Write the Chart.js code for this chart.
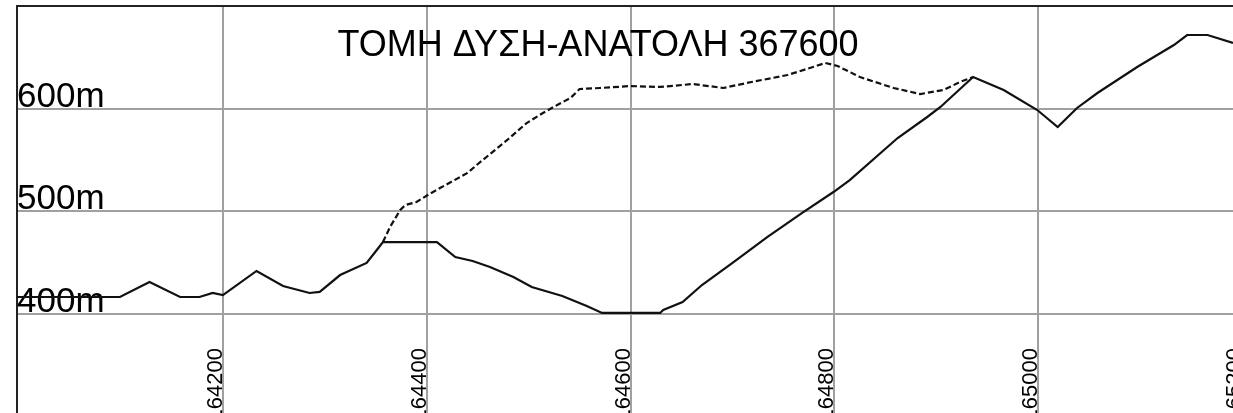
<!DOCTYPE html>
<html>
<head>
<meta charset="utf-8">
<title>ΤΟΜΗ ΔΥΣΗ-ΑΝΑΤΟΛΗ 367600</title>
<script src="https://cdn.jsdelivr.net/npm/chart.js@4.4.1/dist/chart.umd.min.js"></script>
<style>
  html, body { margin: 0; padding: 0; background: #fff; }
  #wrap { width: 1233px; height: 413px; }
</style>
</head>
<body>
<div id="wrap"><canvas id="tomi" width="1233" height="413"></canvas></div>
<script>
var titleText = "ΤΟΜΗ ΔΥΣΗ-ΑΝΑΤΟΛΗ 367600";
var xTicks = [164200, 164400, 164600, 164800, 165000, 165200];
var yTicks = [400, 500, 600];
var yTickLabels = ["400m", "500m", "600m"];

// upper profile (dashed), splits off the lower one near 164357
var dashX = [164357, 164364, 164374, 164379, 164390, 164401, 164413, 164440, 164449, 164479,
  164498, 164514, 164528, 164541, 164550, 164570, 164600, 164629, 164661, 164691,
  164714, 164754, 164779, 164791, 164803, 164825, 164858, 164884, 164907, 164923, 164936];
var dashY = [470.2, 484.9, 501.5, 506.3, 509.3, 516.1, 522.9, 537.6, 545.4, 569.8,
  586.3, 596.1, 603.9, 610.7, 619.5, 620.5, 622.4, 621.5, 624.4, 620.5,
  625.4, 633.2, 641.0, 644.9, 642.0, 631.2, 620.5, 614.6, 618.5, 626.3, 631.2];

// lower profile (solid)
var solidX = [163998, 164099, 164128, 164158, 164177, 164190, 164200, 164233, 164259, 164285,
  164295, 164315, 164341, 164351, 164357, 164410, 164428, 164445, 164462, 164485,
  164503, 164533, 164557, 164572, 164629, 164632, 164651, 164670, 164701, 164734,
  164768, 164799, 164815, 164862, 164891, 164904, 164936, 164966, 164999, 165019,
  165038, 165058, 165097, 165133, 165146, 165166, 165191];
var solidY = [416.6, 416.6, 431.2, 416.6, 416.6, 420.5, 418.5, 442.0, 427.3, 420.5,
  421.5, 438.0, 449.8, 462.4, 470.2, 470.2, 455.6, 451.7, 445.9, 436.1,
  426.3, 417.6, 407.8, 401.0, 401.0, 403.9, 411.7, 428.3, 450.7, 475.1,
  498.5, 519.0, 530.7, 571.7, 592.2, 602.0, 631.2, 618.5, 599.0, 582.4,
  601.0, 615.6, 641.0, 662.4, 672.2, 672.2, 664.4];

var xMin = 163998, xMax = 165191;
var yMin = 303.4, yMax = 700.5;

(function () {
  function toPoints(xs, ys) {
    return xs.map(function (x, i) {
      return { x: x, y: ys[i] };
    });
  }

  function flatten(axis) {
    axis.paddingTop = 0;
    axis.paddingBottom = 0;
    axis.paddingLeft = 0;
    axis.paddingRight = 0;
  }

  var FONT = "'Liberation Sans', Arial, sans-serif";

  var labelsPlugin = {
    id: "tomiLabels",
    afterDraw: function (chart) {
      var ctx = chart.ctx;
      var xs = chart.scales.x;
      ctx.save();
      ctx.fillStyle = "#000";
      ctx.font = "36px " + FONT;
      ctx.textAlign = "center";
      ctx.textBaseline = "alphabetic";
      ctx.fillText(titleText, 598, 56);

      ctx.font = "22px " + FONT;
      ctx.textAlign = "right";
      xTicks.forEach(function (v) {
        var px = xs.getPixelForValue(v);
        ctx.save();
        ctx.translate(px - 1, 348);
        ctx.rotate(-Math.PI / 2);
        ctx.fillText(String(v), 0, 0);
        ctx.restore();
      });
      ctx.restore();
    },
  };

  var gridColor = "#a0a0a0";

  new Chart(document.getElementById("tomi").getContext("2d"), {
    type: "line",
    data: {
      datasets: [
        {
          label: "dash",
          data: toPoints(dashX, dashY),
          borderColor: "#111",
          borderWidth: 2.2,
          borderDash: [6, 3],
          pointRadius: 0,
          tension: 0,
          fill: false,
        },
        {
          label: "solid",
          data: toPoints(solidX, solidY),
          borderColor: "#111",
          borderWidth: 2.2,
          pointRadius: 0,
          tension: 0,
          fill: false,
        },
      ],
    },
    options: {
      responsive: false,
      animation: false,
      devicePixelRatio: 1,
      layout: { autoPadding: false, padding: { left: 17, top: 6, right: 0, bottom: 0 } },
      plugins: {
        legend: { display: false },
        tooltip: { enabled: false },
        title: { display: false },
      },
      scales: {
        x: {
          type: "linear",
          min: xMin,
          max: xMax,
          afterBuildTicks: function (axis) {
            axis.ticks = xTicks
              .filter(function (v) { return v <= xMax; })
              .map(function (v) { return { value: v }; });
          },
          afterFit: function (axis) { axis.height = 0; flatten(axis); },
          ticks: { display: false },
          grid: { color: gridColor, lineWidth: 2, drawTicks: false },
          border: { display: false },
        },
        x2: {
          type: "linear",
          position: "top",
          min: xMin,
          max: xMax,
          afterFit: function (axis) { axis.height = 0; flatten(axis); },
          ticks: { display: false },
          grid: { display: false, drawTicks: false },
          border: { display: true, color: "#222", width: 2 },
        },
        y: {
          type: "linear",
          min: yMin,
          max: yMax,
          afterBuildTicks: function (axis) {
            axis.ticks = yTicks.map(function (v) { return { value: v }; });
          },
          afterFit: function (axis) { axis.width = 0; flatten(axis); },
          ticks: {
            mirror: true,
            padding: 0,
            labelOffset: -12,
            color: "#000",
            font: { family: FONT, size: 35 },
            callback: function (value) {
              return yTickLabels[yTicks.indexOf(value)];
            },
          },
          grid: { color: gridColor, lineWidth: 2, drawTicks: false },
          border: { display: true, color: "#222", width: 2 },
        },
      },
    },
    plugins: [labelsPlugin],
  });
})();
</script>
</body>
</html>
